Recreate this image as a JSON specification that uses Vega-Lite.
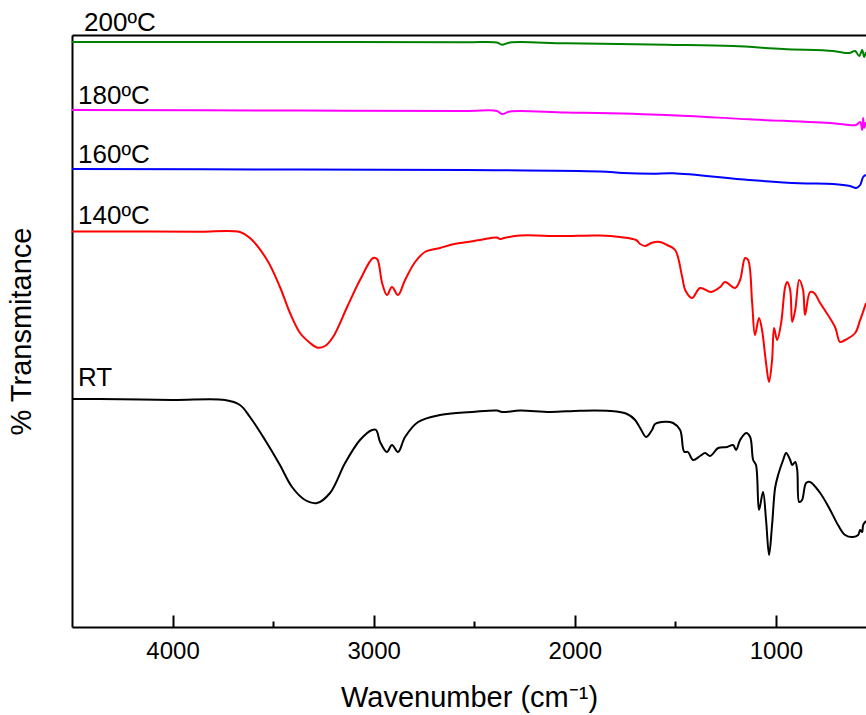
{
  "$schema": "https://vega.github.io/schema/vega-lite/v6.json",
  "autosize": "none",
  "width": 794,
  "height": 592,
  "padding": {"left": 72, "top": 35, "right": 0, "bottom": 88},
  "background": "white",
  "config": {"view": {"stroke": null}, "font": "Liberation Sans"},
  "datasets": {
    "spectra": [
      {"s": "200ºC", "wn": 4500, "t": 585}, {"s": "200ºC", "wn": 3366, "t": 585}, {"s": "200ºC", "wn": 2541, "t": 584.7}, {"s": "200ºC", "wn": 2387, "t": 584.5}, {"s": "200ºC", "wn": 2362, "t": 582.3}, {"s": "200ºC", "wn": 2322, "t": 584.5}, {"s": "200ºC", "wn": 2043, "t": 583.7}, {"s": "200ºC", "wn": 1546, "t": 582.3}, {"s": "200ºC", "wn": 1213, "t": 581}, {"s": "200ºC", "wn": 964, "t": 578}, {"s": "200ºC", "wn": 716, "t": 576}, {"s": "200ºC", "wn": 636, "t": 574}, {"s": "200ºC", "wn": 606, "t": 576}, {"s": "200ºC", "wn": 586, "t": 571}, {"s": "200ºC", "wn": 571, "t": 577}, {"s": "200ºC", "wn": 561, "t": 570}, {"s": "200ºC", "wn": 552, "t": 575},

      {"s": "180ºC", "wn": 4500, "t": 517}, {"s": "180ºC", "wn": 3366, "t": 516.5}, {"s": "180ºC", "wn": 2541, "t": 516}, {"s": "180ºC", "wn": 2387, "t": 516}, {"s": "180ºC", "wn": 2362, "t": 513}, {"s": "180ºC", "wn": 2322, "t": 515.5}, {"s": "180ºC", "wn": 2043, "t": 514.5}, {"s": "180ºC", "wn": 1546, "t": 512}, {"s": "180ºC", "wn": 1133, "t": 507.7}, {"s": "180ºC", "wn": 716, "t": 503.7}, {"s": "180ºC", "wn": 636, "t": 502}, {"s": "180ºC", "wn": 601, "t": 502}, {"s": "180ºC", "wn": 581, "t": 505}, {"s": "180ºC", "wn": 571, "t": 497}, {"s": "180ºC", "wn": 566, "t": 509}, {"s": "180ºC", "wn": 561, "t": 499}, {"s": "180ºC", "wn": 552, "t": 505},

      {"s": "160ºC", "wn": 4500, "t": 458}, {"s": "160ºC", "wn": 3366, "t": 457.5}, {"s": "160ºC", "wn": 2541, "t": 457}, {"s": "160ºC", "wn": 1874, "t": 455.5}, {"s": "160ºC", "wn": 1760, "t": 454}, {"s": "160ºC", "wn": 1611, "t": 453.3}, {"s": "160ºC", "wn": 1511, "t": 453.7}, {"s": "160ºC", "wn": 1133, "t": 447}, {"s": "160ºC", "wn": 884, "t": 443.7}, {"s": "160ºC", "wn": 716, "t": 443}, {"s": "160ºC", "wn": 631, "t": 441}, {"s": "160ºC", "wn": 601, "t": 439}, {"s": "160ºC", "wn": 581, "t": 442}, {"s": "160ºC", "wn": 566, "t": 450}, {"s": "160ºC", "wn": 552, "t": 452},

      {"s": "140ºC", "wn": 4500, "t": 395.5}, {"s": "140ºC", "wn": 4112, "t": 395.5}, {"s": "140ºC", "wn": 3863, "t": 395.3}, {"s": "140ºC", "wn": 3665, "t": 395}, {"s": "140ºC", "wn": 3615, "t": 389}, {"s": "140ºC", "wn": 3530, "t": 367}, {"s": "140ºC", "wn": 3466, "t": 340}, {"s": "140ºC", "wn": 3416, "t": 314}, {"s": "140ºC", "wn": 3366, "t": 294}, {"s": "140ºC", "wn": 3316, "t": 284}, {"s": "140ºC", "wn": 3282, "t": 279.5}, {"s": "140ºC", "wn": 3242, "t": 281}, {"s": "140ºC", "wn": 3202, "t": 290}, {"s": "140ºC", "wn": 3132, "t": 320}, {"s": "140ºC", "wn": 3068, "t": 347}, {"s": "140ºC", "wn": 3003, "t": 369}, {"s": "140ºC", "wn": 2983, "t": 368}, {"s": "140ºC", "wn": 2958, "t": 344}, {"s": "140ºC", "wn": 2934, "t": 332}, {"s": "140ºC", "wn": 2909, "t": 340}, {"s": "140ºC", "wn": 2879, "t": 332}, {"s": "140ºC", "wn": 2844, "t": 347}, {"s": "140ºC", "wn": 2794, "t": 365}, {"s": "140ºC", "wn": 2745, "t": 375}, {"s": "140ºC", "wn": 2670, "t": 379}, {"s": "140ºC", "wn": 2620, "t": 382}, {"s": "140ºC", "wn": 2570, "t": 384}, {"s": "140ºC", "wn": 2471, "t": 387}, {"s": "140ºC", "wn": 2387, "t": 389.5}, {"s": "140ºC", "wn": 2372, "t": 388}, {"s": "140ºC", "wn": 2352, "t": 389}, {"s": "140ºC", "wn": 2272, "t": 391.5}, {"s": "140ºC", "wn": 2073, "t": 391}, {"s": "140ºC", "wn": 1874, "t": 391.5}, {"s": "140ºC", "wn": 1775, "t": 390}, {"s": "140ºC", "wn": 1695, "t": 387}, {"s": "140ºC", "wn": 1675, "t": 383}, {"s": "140ºC", "wn": 1650, "t": 381}, {"s": "140ºC", "wn": 1616, "t": 384.3}, {"s": "140ºC", "wn": 1576, "t": 385}, {"s": "140ºC", "wn": 1541, "t": 382}, {"s": "140ºC", "wn": 1501, "t": 377}, {"s": "140ºC", "wn": 1466, "t": 350}, {"s": "140ºC", "wn": 1451, "t": 337}, {"s": "140ºC", "wn": 1417, "t": 329}, {"s": "140ºC", "wn": 1377, "t": 339}, {"s": "140ºC", "wn": 1322, "t": 335}, {"s": "140ºC", "wn": 1277, "t": 340}, {"s": "140ºC", "wn": 1253, "t": 345}, {"s": "140ºC", "wn": 1203, "t": 339}, {"s": "140ºC", "wn": 1178, "t": 347}, {"s": "140ºC", "wn": 1153, "t": 369}, {"s": "140ºC", "wn": 1138, "t": 367}, {"s": "140ºC", "wn": 1118, "t": 324}, {"s": "140ºC", "wn": 1104, "t": 292}, {"s": "140ºC", "wn": 1084, "t": 309}, {"s": "140ºC", "wn": 1069, "t": 297}, {"s": "140ºC", "wn": 1049, "t": 264}, {"s": "140ºC", "wn": 1034, "t": 245}, {"s": "140ºC", "wn": 1019, "t": 267}, {"s": "140ºC", "wn": 1009, "t": 299}, {"s": "140ºC", "wn": 994, "t": 287}, {"s": "140ºC", "wn": 974, "t": 304}, {"s": "140ºC", "wn": 954, "t": 340}, {"s": "140ºC", "wn": 944, "t": 345}, {"s": "140ºC", "wn": 929, "t": 337}, {"s": "140ºC", "wn": 919, "t": 305}, {"s": "140ºC", "wn": 904, "t": 317}, {"s": "140ºC", "wn": 884, "t": 347}, {"s": "140ºC", "wn": 865, "t": 337}, {"s": "140ºC", "wn": 855, "t": 312}, {"s": "140ºC", "wn": 830, "t": 335}, {"s": "140ºC", "wn": 810, "t": 334}, {"s": "140ºC", "wn": 780, "t": 324}, {"s": "140ºC", "wn": 706, "t": 300}, {"s": "140ºC", "wn": 681, "t": 285}, {"s": "140ºC", "wn": 656, "t": 287}, {"s": "140ºC", "wn": 606, "t": 294}, {"s": "140ºC", "wn": 581, "t": 307}, {"s": "140ºC", "wn": 552, "t": 324},

      {"s": "RT", "wn": 4500, "t": 228}, {"s": "RT", "wn": 4361, "t": 228}, {"s": "RT", "wn": 4003, "t": 227}, {"s": "RT", "wn": 3739, "t": 227}, {"s": "RT", "wn": 3665, "t": 222}, {"s": "RT", "wn": 3615, "t": 210}, {"s": "RT", "wn": 3540, "t": 187}, {"s": "RT", "wn": 3466, "t": 162}, {"s": "RT", "wn": 3406, "t": 140}, {"s": "RT", "wn": 3341, "t": 127}, {"s": "RT", "wn": 3282, "t": 124}, {"s": "RT", "wn": 3217, "t": 134}, {"s": "RT", "wn": 3142, "t": 164}, {"s": "RT", "wn": 3068, "t": 187}, {"s": "RT", "wn": 3008, "t": 197}, {"s": "RT", "wn": 2988, "t": 197}, {"s": "RT", "wn": 2968, "t": 185}, {"s": "RT", "wn": 2934, "t": 175}, {"s": "RT", "wn": 2909, "t": 182}, {"s": "RT", "wn": 2879, "t": 175}, {"s": "RT", "wn": 2844, "t": 190}, {"s": "RT", "wn": 2779, "t": 205}, {"s": "RT", "wn": 2670, "t": 212}, {"s": "RT", "wn": 2570, "t": 214.3}, {"s": "RT", "wn": 2511, "t": 215}, {"s": "RT", "wn": 2387, "t": 216.5}, {"s": "RT", "wn": 2362, "t": 215}, {"s": "RT", "wn": 2272, "t": 216.5}, {"s": "RT", "wn": 2123, "t": 215}, {"s": "RT", "wn": 1974, "t": 216.3}, {"s": "RT", "wn": 1825, "t": 216}, {"s": "RT", "wn": 1740, "t": 213}, {"s": "RT", "wn": 1700, "t": 207}, {"s": "RT", "wn": 1675, "t": 199}, {"s": "RT", "wn": 1645, "t": 190}, {"s": "RT", "wn": 1616, "t": 197}, {"s": "RT", "wn": 1601, "t": 203}, {"s": "RT", "wn": 1551, "t": 205.3}, {"s": "RT", "wn": 1511, "t": 204}, {"s": "RT", "wn": 1476, "t": 197}, {"s": "RT", "wn": 1456, "t": 175.3}, {"s": "RT", "wn": 1437, "t": 175}, {"s": "RT", "wn": 1412, "t": 167}, {"s": "RT", "wn": 1377, "t": 171}, {"s": "RT", "wn": 1352, "t": 174}, {"s": "RT", "wn": 1327, "t": 171}, {"s": "RT", "wn": 1287, "t": 179}, {"s": "RT", "wn": 1243, "t": 180}, {"s": "RT", "wn": 1213, "t": 182}, {"s": "RT", "wn": 1198, "t": 177}, {"s": "RT", "wn": 1178, "t": 187}, {"s": "RT", "wn": 1148, "t": 194}, {"s": "RT", "wn": 1128, "t": 190}, {"s": "RT", "wn": 1113, "t": 167}, {"s": "RT", "wn": 1099, "t": 162}, {"s": "RT", "wn": 1084, "t": 117}, {"s": "RT", "wn": 1064, "t": 135}, {"s": "RT", "wn": 1049, "t": 107}, {"s": "RT", "wn": 1034, "t": 72}, {"s": "RT", "wn": 1019, "t": 102}, {"s": "RT", "wn": 1004, "t": 139}, {"s": "RT", "wn": 989, "t": 152}, {"s": "RT", "wn": 964, "t": 167}, {"s": "RT", "wn": 949, "t": 174}, {"s": "RT", "wn": 929, "t": 167}, {"s": "RT", "wn": 919, "t": 162}, {"s": "RT", "wn": 904, "t": 165}, {"s": "RT", "wn": 894, "t": 157}, {"s": "RT", "wn": 884, "t": 125}, {"s": "RT", "wn": 870, "t": 127}, {"s": "RT", "wn": 850, "t": 144}, {"s": "RT", "wn": 830, "t": 145}, {"s": "RT", "wn": 780, "t": 134}, {"s": "RT", "wn": 730, "t": 117}, {"s": "RT", "wn": 691, "t": 102}, {"s": "RT", "wn": 656, "t": 92}, {"s": "RT", "wn": 616, "t": 90}, {"s": "RT", "wn": 591, "t": 92}, {"s": "RT", "wn": 581, "t": 97}, {"s": "RT", "wn": 571, "t": 95}, {"s": "RT", "wn": 566, "t": 102}, {"s": "RT", "wn": 552, "t": 106}
    ],
    "labels": [
      {"s": "200ºC", "wn": 4440, "t": 596},
      {"s": "180ºC", "wn": 4470, "t": 523},
      {"s": "160ºC", "wn": 4470, "t": 464},
      {"s": "140ºC", "wn": 4470, "t": 403},
      {"s": "RT", "wn": 4470, "t": 241}
    ]
  },
  "resolve": {"axis": {"x": "independent", "y": "independent"}},
  "layer": [
    {
      "data": {"name": "spectra"},
      "mark": {"type": "line", "interpolate": "catmull-rom", "strokeWidth": 2, "clip": true},
      "encoding": {
        "x": {
          "field": "wn", "type": "quantitative",
          "scale": {"domain": [552, 4500], "reverse": true, "nice": false, "zero": false},
          "axis": {
            "orient": "bottom",
            "values": [4000, 3500, 3000, 2500, 2000, 1500, 1000],
            "format": "d",
            "labelExpr": "datum.value % 1000 === 0 ? datum.label : ''",
            "grid": false,
            "domainColor": "black", "domainWidth": 2,
            "tickColor": "black", "tickWidth": 2,
            "tickSize": {"condition": {"test": "datum.value % 1000 === 0", "value": -12}, "value": -6},
            "labelFontSize": 24, "labelColor": "black", "labelPadding": 24,
            "labelFont": "Liberation Sans",
            "title": "Wavenumber (cm⁻¹)",
            "titleFontSize": 29, "titleFontWeight": "normal", "titleColor": "black",
            "titleFont": "Liberation Sans", "titlePadding": 20
          }
        },
        "y": {
          "field": "t", "type": "quantitative",
          "scale": {"domain": [0, 592], "nice": false, "zero": false},
          "axis": {
            "orient": "left", "ticks": false, "labels": false, "grid": false,
            "domainColor": "black", "domainWidth": 2,
            "title": "% Transmitance",
            "titleFontSize": 29, "titleFontWeight": "normal", "titleColor": "black",
            "titleFont": "Liberation Sans", "titlePadding": 36
          }
        },
        "color": {
          "field": "s", "type": "nominal",
          "scale": {"domain": ["200ºC", "180ºC", "160ºC", "140ºC", "RT"], "range": ["#008000", "#ff00ff", "#0000ff", "#ff0000", "#000000"]},
          "legend": null
        },
        "detail": {"field": "s"}
      }
    },
    {
      "data": {"name": "labels"},
      "mark": {"type": "text", "align": "left", "baseline": "alphabetic", "fontSize": 26, "font": "Liberation Sans", "color": "black", "clip": false},
      "encoding": {
        "x": {
          "field": "wn", "type": "quantitative",
          "axis": {"orient": "top", "labels": false, "ticks": false, "grid": false, "title": null, "domainColor": "black", "domainWidth": 2}
        },
        "y": {"field": "t", "type": "quantitative", "axis": null},
        "text": {"field": "s"}
      }
    }
  ]
}
